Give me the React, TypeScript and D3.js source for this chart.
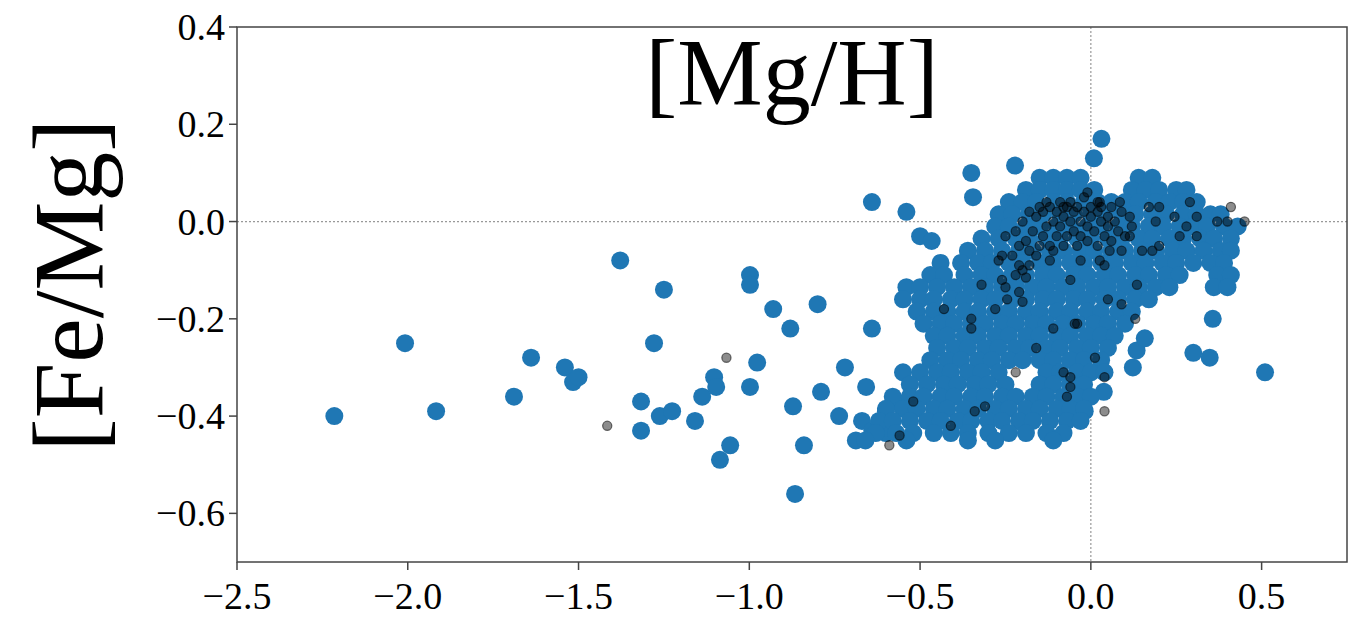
import React from "react";
import * as d3 from "d3";

const xTicks = [-2.5, -2.0, -1.5, -1.0, -0.5, 0.0, 0.5];
const yTicks = [0.4, 0.2, 0.0, -0.2, -0.4, -0.6];
const titleText = "[Mg/H]";
const yLabelText = "[Fe/Mg]";

// isolated blue points [x, y]
const blueOutliers: [number, number][] = [
  [-2.215, -0.40], [-2.008, -0.25], [-1.917, -0.39], [-1.689, -0.36], [-1.639, -0.28],
  [-1.54, -0.30], [-1.516, -0.33], [-1.50, -0.32], [-1.378, -0.08], [-1.317, -0.37],
  [-1.317, -0.43], [-1.279, -0.25], [-1.262, -0.40], [-1.25, -0.14], [-1.226, -0.39],
  [-1.159, -0.41], [-1.138, -0.36], [-1.103, -0.32], [-1.097, -0.34], [-1.086, -0.49],
  [-1.056, -0.46], [-0.998, -0.11], [-0.998, -0.13], [-0.998, -0.34], [-0.977, -0.29],
  [-0.93, -0.18], [-0.88, -0.22], [-0.872, -0.38], [-0.866, -0.56], [-0.84, -0.46],
  [-0.80, -0.17], [-0.79, -0.35], [-0.737, -0.40], [-0.72, -0.30], [-0.688, -0.45],
  [-0.658, -0.34], [-0.641, 0.04], [-0.641, -0.22], [-0.67, -0.41], [-0.64, -0.43],
  [-0.60, -0.435], [-0.60, -0.39], [-0.57, -0.37], [-0.54, 0.02], [-0.50, -0.03],
  [-0.466, -0.04], [-0.35, 0.10], [-0.345, 0.05], [-0.222, 0.115], [0.009, 0.13],
  [0.031, 0.17], [0.357, -0.20], [0.30, -0.27], [0.348, -0.28], [0.51, -0.31],
  [0.134, -0.265], [0.123, -0.30], [0.158, -0.24], [0.038, -0.35], [-0.018, -0.39],
];

// dense blue cluster, listed row by row: [y, x values]
const blueClusterRows: [number, number[]][] = [
  [0.09, [-0.15, -0.11, -0.07, -0.03, 0.14, 0.18]],
  [0.065, [-0.19, -0.15, -0.11, -0.07, -0.03, 0.01, 0.12, 0.16, 0.20, 0.25, 0.28]],
  [0.04, [-0.24, -0.20, -0.16, -0.11, -0.07, -0.02, 0.02, 0.06, 0.10, 0.14, 0.19, 0.23, 0.27, 0.31]],
  [0.015, [-0.27, -0.23, -0.18, -0.14, -0.09, -0.05, 0.0, 0.04, 0.09, 0.13, 0.18, 0.22, 0.27, 0.31, 0.35, 0.38]],
  [-0.01, [-0.28, -0.24, -0.19, -0.15, -0.10, -0.06, -0.01, 0.03, 0.08, 0.12, 0.17, 0.21, 0.26, 0.30, 0.34, 0.39, 0.43]],
  [-0.035, [-0.32, -0.27, -0.22, -0.18, -0.13, -0.09, -0.04, 0.0, 0.05, 0.09, 0.14, 0.18, 0.23, 0.27, 0.32, 0.36, 0.41]],
  [-0.06, [-0.36, -0.31, -0.26, -0.21, -0.17, -0.12, -0.08, -0.03, 0.01, 0.06, 0.10, 0.15, 0.19, 0.24, 0.28, 0.33, 0.38, 0.41]],
  [-0.085, [-0.44, -0.38, -0.33, -0.29, -0.24, -0.20, -0.15, -0.11, -0.06, -0.02, 0.03, 0.07, 0.12, 0.16, 0.21, 0.25, 0.30, 0.35, 0.39]],
  [-0.11, [-0.47, -0.43, -0.37, -0.32, -0.28, -0.23, -0.19, -0.14, -0.10, -0.05, -0.01, 0.04, 0.08, 0.13, 0.17, 0.22, 0.26, 0.37, 0.41]],
  [-0.135, [-0.54, -0.50, -0.45, -0.40, -0.35, -0.31, -0.26, -0.22, -0.17, -0.13, -0.08, -0.04, 0.01, 0.05, 0.10, 0.14, 0.19, 0.23, 0.36, 0.40]],
  [-0.16, [-0.55, -0.50, -0.46, -0.41, -0.37, -0.32, -0.28, -0.23, -0.19, -0.14, -0.10, -0.05, -0.01, 0.04, 0.08, 0.13, 0.17]],
  [-0.185, [-0.51, -0.46, -0.42, -0.37, -0.33, -0.28, -0.24, -0.19, -0.15, -0.10, -0.06, -0.01, 0.03, 0.08, 0.12]],
  [-0.21, [-0.49, -0.44, -0.40, -0.35, -0.31, -0.26, -0.22, -0.17, -0.13, -0.08, -0.04, 0.01, 0.05, 0.10]],
  [-0.235, [-0.46, -0.42, -0.37, -0.33, -0.28, -0.24, -0.19, -0.15, -0.10, -0.06, -0.01, 0.03, 0.07]],
  [-0.26, [-0.45, -0.40, -0.36, -0.31, -0.27, -0.22, -0.18, -0.13, -0.09, -0.04, 0.0, 0.05]],
  [-0.285, [-0.47, -0.42, -0.38, -0.33, -0.29, -0.24, -0.20, -0.15, -0.11, -0.06, -0.02, 0.03]],
  [-0.31, [-0.55, -0.50, -0.45, -0.41, -0.36, -0.32, -0.27, -0.13, -0.09, -0.04, 0.0, 0.04]],
  [-0.335, [-0.53, -0.48, -0.43, -0.39, -0.34, -0.30, -0.25, -0.15, -0.11, -0.06, -0.02]],
  [-0.36, [-0.58, -0.53, -0.49, -0.44, -0.40, -0.35, -0.31, -0.26, -0.22, -0.17, -0.13, -0.08, -0.04, 0.0]],
  [-0.385, [-0.60, -0.55, -0.51, -0.46, -0.42, -0.37, -0.33, -0.28, -0.24, -0.19, -0.15, -0.10, -0.06, -0.02]],
  [-0.41, [-0.62, -0.58, -0.53, -0.48, -0.44, -0.39, -0.35, -0.30, -0.26, -0.21, -0.17, -0.12, -0.07, -0.03]],
  [-0.435, [-0.63, -0.57, -0.52, -0.46, -0.41, -0.36, -0.30, -0.24, -0.19, -0.13, -0.08]],
  [-0.45, [-0.66, -0.54, -0.36, -0.28, -0.11]],
];

// black (second sample) points [x, y]
const blackPoints: [number, number][] = [
  [-1.416, -0.42], [-1.067, -0.28], [-0.59, -0.46], [-0.56, -0.44], [-0.52, -0.37],
  [-0.41, -0.42], [-0.34, -0.39], [-0.31, -0.38], [-0.43, -0.18], [-0.35, -0.20],
  [-0.35, -0.22], [-0.28, -0.18], [-0.32, -0.13], [-0.26, -0.12], [-0.25, -0.135],
  [-0.245, -0.16], [-0.20, -0.165], [-0.21, -0.145], [-0.27, -0.08], [-0.26, -0.07],
  [-0.20, -0.10], [-0.19, -0.115], [-0.16, -0.26], [-0.11, -0.22], [-0.047, -0.21],
  [-0.04, -0.21], [-0.06, -0.12], [0.05, -0.16], [0.09, -0.17], [0.13, -0.20],
  [0.135, -0.13], [0.012, -0.28], [-0.22, -0.31], [-0.08, -0.31], [-0.06, -0.32],
  [-0.06, -0.34], [-0.07, -0.36], [0.04, -0.32], [0.04, -0.39],
  [0.41, 0.03], [0.45, 0.0], [0.40, 0.0], [0.37, 0.0], [0.29, 0.04], [0.31, 0.01],
  [0.26, -0.03], [0.31, -0.03], [0.20, -0.05], [0.18, -0.06], [0.15, -0.06],
  [0.09, -0.06], [0.055, -0.06], [0.026, -0.08], [0.04, -0.09], [-0.03, -0.08],
  [0.026, 0.04], [0.085, 0.04], [0.17, 0.03], [0.20, 0.03], [0.245, 0.01],
  [0.19, 0.0], [0.114, 0.01], [0.12, -0.01], [0.114, -0.03], [0.28, -0.01],
  [-0.22, -0.02], [-0.20, 0.0], [-0.19, -0.04], [-0.18, -0.06], [-0.17, -0.02],
  [-0.16, 0.01], [-0.15, -0.05], [-0.14, -0.03], [-0.14, 0.02], [-0.13, -0.01],
  [-0.12, 0.03], [-0.12, -0.05], [-0.11, 0.0], [-0.10, -0.03], [-0.10, 0.02],
  [-0.09, 0.04], [-0.09, -0.01], [-0.08, -0.05], [-0.08, 0.01], [-0.07, 0.03],
  [-0.07, -0.03], [-0.06, 0.0], [-0.06, 0.04], [-0.05, -0.02], [-0.05, 0.02],
  [-0.04, -0.05], [-0.04, 0.03], [-0.03, 0.0], [-0.03, -0.03], [-0.02, 0.02],
  [-0.02, 0.05], [-0.01, -0.01], [-0.01, -0.04], [0.0, 0.03], [0.0, 0.01],
  [0.01, -0.02], [0.02, 0.02], [0.02, -0.05], [0.03, 0.0], [0.03, 0.03],
  [0.04, -0.03], [0.05, 0.01], [0.05, -0.01], [0.06, 0.03], [0.06, -0.04],
  [0.07, 0.0], [0.08, -0.02], [0.09, 0.02], [0.10, -0.03], [-0.21, -0.05],
  [-0.18, 0.02], [-0.11, -0.06], [-0.15, 0.03], [-0.13, 0.04], [-0.08, 0.03],
  [-0.23, -0.07], [-0.21, -0.09], [-0.22, -0.11], [-0.18, -0.09], [-0.16, -0.07],
  [-0.12, -0.08], [-0.25, -0.03], [-0.01, 0.06], [0.02, 0.04],
];

const W = 1350;
const H = 619;
const M = { left: 237, right: 1347, top: 27, bottom: 562 };
const FONT = "'Liberation Serif', 'DejaVu Serif', serif";

export default function App() {
  const x = d3.scaleLinear().domain([-2.5, 0.75]).range([M.left, M.right]);
  const y = d3.scaleLinear().domain([-0.7, 0.4]).range([M.bottom, M.top]);
  const fmt = d3.format(".1f");

  const blueCluster: [number, number][] = blueClusterRows.flatMap(([yy, xs]) =>
    xs.map((xx) => [xx, yy] as [number, number])
  );
  const bluePts = [...blueOutliers, ...blueCluster];

  return (
    <svg
      width={W}
      height={H}
      style={{ position: "absolute", left: 0, top: 0, background: "#fff" }}
      fontFamily={FONT}
    >
      <rect x={0} y={0} width={W} height={H} fill="#fff" />
      <defs>
        <clipPath id="plotclip">
          <rect x={M.left} y={M.top} width={M.right - M.left} height={M.bottom - M.top} />
        </clipPath>
      </defs>
      {/* zero reference lines */}
      <line x1={M.left} x2={M.right} y1={y(0)} y2={y(0)} stroke="#999" strokeWidth={1.2} strokeDasharray="2,2" />
      <line x1={x(0)} x2={x(0)} y1={M.top} y2={M.bottom} stroke="#999" strokeWidth={1.2} strokeDasharray="2,2" />

      <g clipPath="url(#plotclip)">
        {bluePts.map(([a, b], i) => (
          <circle key={"b" + i} cx={x(a)} cy={y(b)} r={9} fill="#1f77b4" />
        ))}
        {blackPoints.map(([a, b], i) => (
          <circle
            key={"k" + i}
            cx={x(a)}
            cy={y(b)}
            r={4.6}
            fill="#000"
            fillOpacity={0.45}
            stroke="#000"
            strokeOpacity={0.55}
            strokeWidth={1.2}
          />
        ))}
      </g>

      {/* title */}
      <text x={792} y={105} textAnchor="middle" fontSize={96} fill="#000">
        {titleText}
      </text>

      {/* frame */}
      <rect
        x={M.left}
        y={M.top}
        width={M.right - M.left}
        height={M.bottom - M.top}
        fill="none"
        stroke="#444"
        strokeWidth={1.5}
      />

      {/* y ticks */}
      {yTicks.map((t) => (
        <g key={"yt" + t}>
          <line x1={M.left - 8} x2={M.left} y1={y(t)} y2={y(t)} stroke="#444" strokeWidth={1.5} />
          <text x={M.left - 12} y={y(t)} textAnchor="end" dominantBaseline="central" fontSize={38} fill="#000">
            {fmt(t)}
          </text>
        </g>
      ))}

      {/* x ticks */}
      {xTicks.map((t) => (
        <g key={"xt" + t}>
          <line x1={x(t)} x2={x(t)} y1={M.bottom} y2={M.bottom + 8} stroke="#444" strokeWidth={1.5} />
          <text x={x(t)} y={609} textAnchor="middle" fontSize={38} fill="#000">
            {fmt(t)}
          </text>
        </g>
      ))}

      {/* y label */}
      <text transform={`translate(102,285) rotate(-90)`} textAnchor="middle" fontSize={100} fill="#000">
        {yLabelText}
      </text>
    </svg>
  );
}
